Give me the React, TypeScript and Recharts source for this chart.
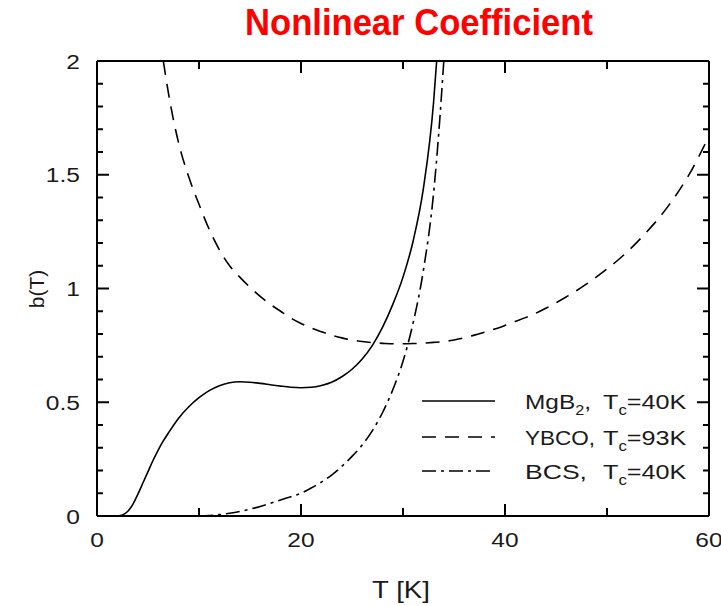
import React from "react";
import { LineChart, Line, XAxis, YAxis } from "recharts";

// MgB2, Tc = 40K (solid)
const mgb2T = [2, 2.5, 3, 3.5, 4, 4.5, 5, 5.5, 6, 6.5, 7, 8, 9, 10, 11, 12, 13, 14, 15, 16, 17, 18, 19, 20, 21, 22, 23, 24, 25, 26, 27, 28, 29, 30, 31, 32, 33, 33.3];
const mgb2B = [0, 0.005, 0.02, 0.05, 0.095, 0.145, 0.195, 0.245, 0.29, 0.33, 0.365, 0.43, 0.48, 0.52, 0.551, 0.573, 0.586, 0.59, 0.588, 0.583, 0.577, 0.571, 0.566, 0.564, 0.566, 0.574, 0.588, 0.612, 0.645, 0.69, 0.75, 0.83, 0.93, 1.05, 1.21, 1.44, 1.82, 2.0];

// YBCO, Tc = 93K (dashed)
const ybcoT = [6.5, 7, 7.5, 8, 9, 10, 11, 12, 13, 14, 15, 16, 17, 18, 19, 20, 21, 22, 23, 24, 25, 26, 27, 28, 29, 30, 31, 32, 33, 34, 35, 36, 37, 38, 39, 40, 41, 42, 43, 44, 45, 46, 47, 48, 49, 50, 51, 52, 53, 54, 55, 56, 57, 58, 59, 60];
const ybcoB = [2.0, 1.86, 1.74, 1.64, 1.49, 1.37, 1.26, 1.17, 1.1, 1.05, 1.005, 0.965, 0.93, 0.9, 0.87, 0.846, 0.826, 0.81, 0.795, 0.783, 0.774, 0.767, 0.762, 0.759, 0.757, 0.757, 0.758, 0.76, 0.763, 0.767, 0.774, 0.783, 0.795, 0.808, 0.822, 0.838, 0.855, 0.872, 0.891, 0.913, 0.937, 0.963, 0.99, 1.02, 1.052, 1.086, 1.122, 1.162, 1.206, 1.254, 1.305, 1.362, 1.426, 1.497, 1.58, 1.67];

// BCS, Tc = 40K (dash-dot)
const bcsT = [10, 11, 12, 13, 14, 15, 16, 17, 18, 19, 20, 21, 22, 23, 24, 25, 26, 27, 28, 29, 30, 31, 32, 33, 33.5, 34];
const bcsB = [0, 0.002, 0.006, 0.012, 0.02, 0.03, 0.042, 0.056, 0.07, 0.085, 0.1, 0.123, 0.149, 0.18, 0.218, 0.262, 0.312, 0.375, 0.455, 0.555, 0.68, 0.85, 1.08, 1.42, 1.68, 2.0];

const xMajor = [0, 20, 40, 60];
const xMinor = [10, 30, 50];
const yMajor = [0, 0.5, 1, 1.5, 2];
const yMinor = [0.1, 0.2, 0.3, 0.4, 0.6, 0.7, 0.8, 0.9, 1.1, 1.2, 1.3, 1.4, 1.6, 1.7, 1.8, 1.9];

const X_DOMAIN: [number, number] = [0, 60];
const Y_DOMAIN: [number, number] = [0, 2];

const W = 721;
const H = 606;
// plot box
const PL = 97, PR = 709, PT = 61, PB = 516;

const toRows = (ts: number[], bs: number[]) => ts.map((t, i) => ({ T: t, b: bs[i] }));
const mgb2 = toRows(mgb2T, mgb2B);
const ybco = toRows(ybcoT, ybcoB);
const bcs = toRows(bcsT, bcsB);

const INK = "#000";
const FONT = "Arial, 'Liberation Sans', Helvetica, sans-serif";
const DASH = "14 9";
const DASHDOT = "14 5 3 5";

// same linear mapping as the chart axes, used for the inward frame ticks
const sx = (v: number) => PL + ((v - X_DOMAIN[0]) / (X_DOMAIN[1] - X_DOMAIN[0])) * (PR - PL);
const sy = (v: number) => PB - ((v - Y_DOMAIN[0]) / (Y_DOMAIN[1] - Y_DOMAIN[0])) * (PB - PT);

function FrameTicks() {
  const out: React.ReactNode[] = [];
  const xt = (vals: number[], len: number, k: string) =>
    vals.forEach((v, i) => {
      out.push(<line key={`${k}b${i}`} x1={sx(v)} x2={sx(v)} y1={PB} y2={PB - len} stroke={INK} strokeWidth={2} />);
      out.push(<line key={`${k}t${i}`} x1={sx(v)} x2={sx(v)} y1={PT} y2={PT + len} stroke={INK} strokeWidth={2} />);
    });
  const yt = (vals: number[], len: number, k: string) =>
    vals.forEach((v, i) => {
      out.push(<line key={`${k}l${i}`} x1={PL} x2={PL + len} y1={sy(v)} y2={sy(v)} stroke={INK} strokeWidth={2} />);
      out.push(<line key={`${k}r${i}`} x1={PR} x2={PR - len} y1={sy(v)} y2={sy(v)} stroke={INK} strokeWidth={2} />);
    });
  xt(xMajor, 12, "M");
  xt(xMinor, 8, "m");
  yt(yMajor, 12, "M");
  yt(yMinor, 6, "m");
  return <g>{out}</g>;
}

function BottomLabel({ x, y, payload }: any) {
  return (
    <text transform={`translate(${x} ${y + 31}) scale(1.17 1)`} textAnchor="middle" fontSize={21} fontFamily={FONT} fill="#1a1a1a">
      {payload.value}
    </text>
  );
}

function LeftLabel({ x, y, payload }: any) {
  return (
    <text transform={`translate(${x - 17} ${y + 7.5}) scale(1.17 1)`} textAnchor="end" fontSize={21} fontFamily={FONT} fill="#1a1a1a">
      {String(payload.value)}
    </text>
  );
}

function LegendRow({ y, dash, name, sub, tc, w }: { y: number; dash?: string; name: string; sub?: string; tc: string; w: number }) {
  return (
    <g fontFamily={FONT} fill="#1a1a1a">
      <line x1={422} x2={495} y1={y} y2={y} stroke={INK} strokeWidth={1.6} strokeDasharray={dash} />
      <text x={525} y={y + 8} fontSize={21} textLength={w} lengthAdjust="spacingAndGlyphs">
        {name}
        {sub && (
          <tspan dy={6} fontSize={14}>
            {sub}
          </tspan>
        )}
        <tspan dy={sub ? -6 : 0}>,</tspan>
      </text>
      <text transform={`translate(603 ${y + 8}) scale(1.2 1)`} fontSize={21}>
        T
        <tspan dy={6} fontSize={14}>
          c
        </tspan>
        <tspan dy={-6}>={tc}</tspan>
      </text>
    </g>
  );
}

const axisLine = { stroke: INK, strokeWidth: 2 };
const common = { type: "number" as const, interval: 0 as const, tickMargin: 0, tickSize: 0, tickLine: false, allowDataOverflow: true };

export default function App() {
  return (
    <div style={{ position: "absolute", left: 0, top: 0, width: W, height: H, background: "#fff", overflow: "hidden" }}>
      <LineChart width={W} height={H} margin={{ top: PT - 1, right: W - PR - 1, bottom: H - PB - 1, left: PL - 1 }}>
        <XAxis xAxisId="b" {...common} dataKey="T" domain={X_DOMAIN} ticks={xMajor} height={1} axisLine={axisLine} tick={<BottomLabel />} />
        <XAxis xAxisId="t" orientation="top" {...common} dataKey="T" domain={X_DOMAIN} ticks={xMajor} height={1} axisLine={axisLine} tick={false} />
        <YAxis yAxisId="l" {...common} domain={Y_DOMAIN} ticks={yMajor} width={1} axisLine={axisLine} tick={<LeftLabel />} />
        <YAxis yAxisId="r" orientation="right" {...common} domain={Y_DOMAIN} ticks={yMajor} width={1} axisLine={axisLine} tick={false} />
        <Line xAxisId="b" yAxisId="l" data={mgb2} dataKey="b" type="monotone" stroke={INK} strokeWidth={1.6} dot={false} isAnimationActive={false} />
        <Line xAxisId="b" yAxisId="l" data={ybco} dataKey="b" type="monotone" stroke={INK} strokeWidth={1.6} strokeDasharray={DASH} dot={false} isAnimationActive={false} />
        <Line xAxisId="b" yAxisId="l" data={bcs} dataKey="b" type="monotone" stroke={INK} strokeWidth={1.6} strokeDasharray={DASHDOT} dot={false} isAnimationActive={false} />
      </LineChart>
      <svg width={W} height={H} style={{ position: "absolute", left: 0, top: 0, pointerEvents: "none" }}>
        <FrameTicks />
        <text x={419} y={35} textAnchor="middle" fontSize={37} fontWeight="bold" fontFamily={FONT} fill="#ff0000" textLength={348} lengthAdjust="spacingAndGlyphs">
          Nonlinear Coefficient
        </text>
        <text transform="translate(44 289) rotate(-90)" textAnchor="middle" fontSize={21} fontFamily={FONT} fill="#1a1a1a">
          b(T)
        </text>
        <text transform="translate(401 598) scale(1.2 1)" textAnchor="middle" fontSize={23} fontFamily={FONT} fill="#1a1a1a">
          T [K]
        </text>
        <LegendRow y={401} name="MgB" sub="2" tc="40K" w={66} />
        <LegendRow y={437} name="YBCO" dash={DASH} tc="93K" w={70} />
        <LegendRow y={471} name="BCS" dash={DASHDOT} tc="40K" w={62} />
      </svg>
    </div>
  );
}
